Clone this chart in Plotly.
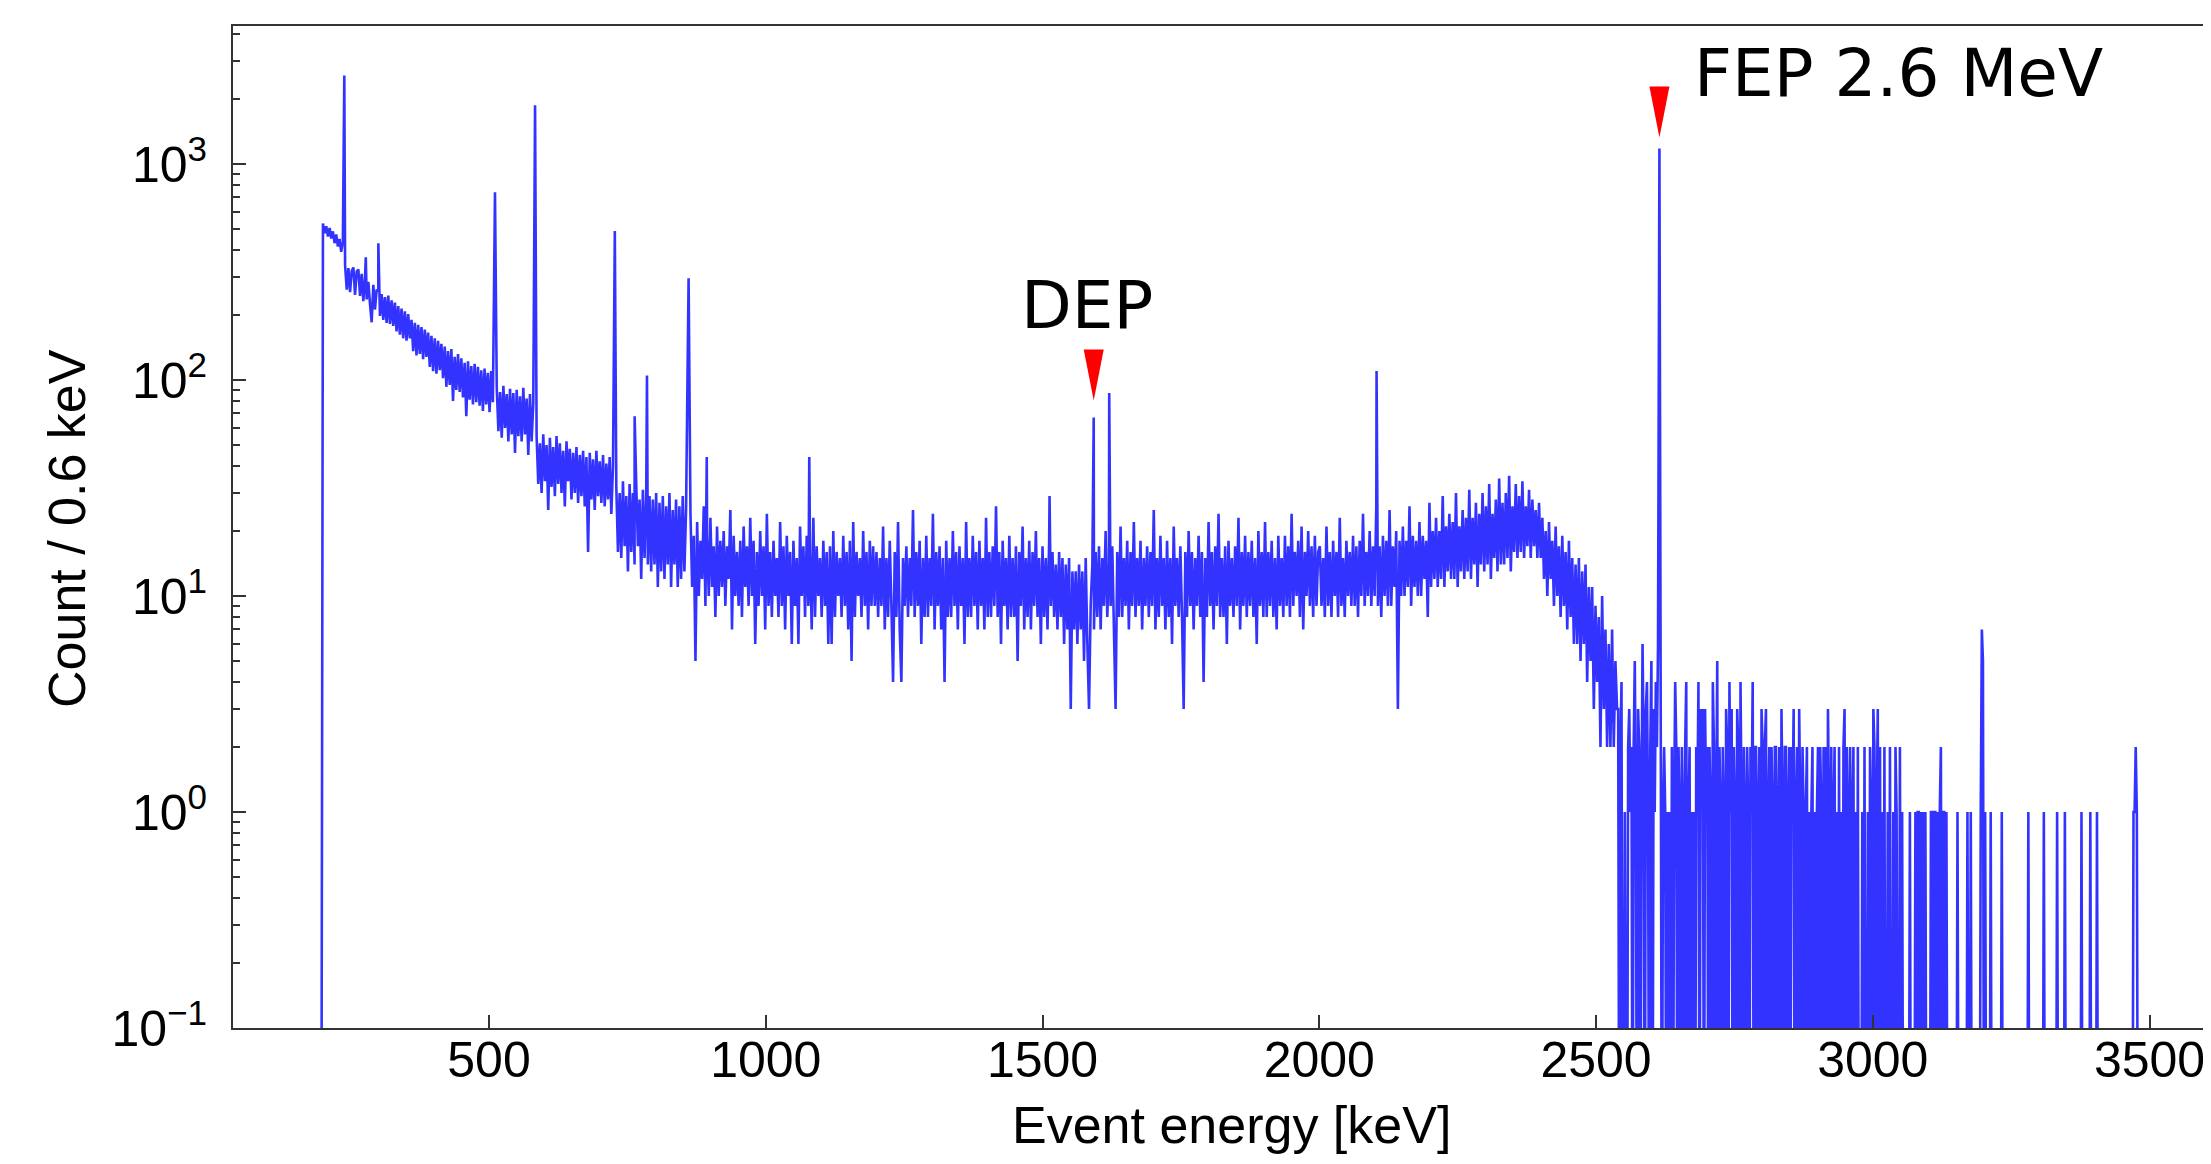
import numpy as np
import plotly.graph_objects as go

# ---------------- data (counts per 0.6 keV bin) ----------------
# main continuum readings, every 3 keV, each segment with its start energy (keV)
seg_a_start = 197
seg_a = [0, 530, 478, 515, 462, 506, 452, 488, 430, 472, 415, 450, 392, 435]

seg_b_start = 240
seg_b = [340, 262, 330, 255, 320, 332, 248, 318, 325, 245,
         310, 232, 298, 236, 285, 225, 185, 276, 212, 262,
         258, 198, 250, 190, 242, 184, 246, 182, 234, 178,
         228, 168, 220, 162, 214, 156, 208, 152, 202, 156,
         190, 136, 184, 130, 180, 132, 176, 125, 171, 128,
         166, 115, 160, 110, 156, 107, 152, 111, 147, 102,
         143, 93, 136, 95, 139, 80, 128, 90, 132, 88,
         126, 83, 120, 68, 122, 81, 116, 77, 119, 79,
         115, 76, 111, 72, 113, 77, 108, 71, 110, 79]

seg_c_start = 514
seg_c = [92, 58, 88, 54, 94, 60, 86, 52, 91, 56, 87, 46, 90, 55, 84, 52, 92, 56, 82, 45, 86, 52, 78]

seg_d_start = 586
seg_d = [55, 33, 51, 30, 56, 34, 50, 25, 54, 32, 49, 29, 55, 33, 51, 30, 47, 26, 52,
         34, 48, 28, 46, 30, 49, 27, 45, 29, 47, 26, 44, 16, 46, 28, 43, 25, 47, 29, 42,
         27, 45, 26, 41, 28, 44, 24, 40]

seg_e_start = 730
seg_e = [32, 16, 30, 15, 34, 17, 29, 13, 33, 16, 30, 14, 33, 17, 28, 12, 31, 15, 29, 14,
         29, 13, 28, 14, 30, 11, 27, 13, 29, 12, 26, 14, 30, 11, 25, 14, 28, 11, 26, 12, 29, 13, 25]

seg_f_start = 864
seg_f = [24, 11, 19, 5, 22, 10, 18, 12, 26, 9,
         19, 10, 23, 11, 17, 8, 21, 10, 18, 11,
         20, 9, 17, 12, 25, 7, 19, 10, 16, 9,
         18, 8, 21, 11, 17, 9, 23, 10, 18, 6,
         16, 9, 20, 10, 17, 7, 24, 9, 16, 8,
         18, 10, 15, 8, 22, 9, 17, 7, 19, 10,
         16, 6, 18, 9, 15, 6, 21, 10, 17, 8,
         19, 9, 16, 7, 23, 8, 17, 10, 15, 8,
         18, 9, 16, 6, 17, 6, 20, 8, 16, 10,
         15, 8, 19, 9, 16, 7, 18, 5, 22, 8,
         16, 10, 15, 8, 20, 9, 16, 7, 18, 9,
         17, 9]

seg_g_start = 1200
seg_g = [16, 8, 15, 9, 21, 7, 15, 8, 18, 9,
         4, 16, 8, 22, 7, 4, 15, 9, 17, 8,
         15, 9, 25, 8, 16, 9, 18, 6, 15, 8,
         19, 8, 15, 9, 24, 7, 16, 9, 17, 7,
         15, 4, 18, 8, 15, 8, 20, 9, 16, 7,
         17, 9, 15, 6, 22, 8, 15, 8, 19, 9,
         16, 7, 18, 9, 15, 7, 23, 8, 16, 8,
         17, 9, 26, 8, 16, 6, 18, 9, 15, 7,
         19, 8, 15, 8, 17, 5, 16, 9, 21, 7,
         15, 8, 18, 7, 16, 9, 20, 8, 15, 6,
         17, 8, 15, 7, 18, 9, 16, 8, 14, 7,
         16, 8, 15, 6, 14, 7, 15, 3, 13, 7,
         13, 6, 14, 7, 13, 5, 15, 6, 3, 9,
         14, 7, 16, 8]

seg_h_start = 1602
seg_h = [17, 7, 15, 9, 20, 8, 14, 9, 17, 7,
         3, 16, 8, 21, 8, 15, 9, 18, 7, 16,
         9, 22, 8, 15, 9, 18, 7, 15, 9, 17,
         8, 16, 9, 25, 7, 15, 8, 19, 9, 15,
         7, 18, 8, 15, 6, 21, 9, 15, 8, 17,
         8, 3, 16, 8, 20, 9, 16, 7, 15, 9,
         19, 8, 16, 4, 15, 8, 22, 9, 16, 7,
         17, 9, 24, 8, 15, 8, 17, 6, 18, 9,
         15, 8, 17, 9, 23, 7, 16, 9, 19, 8,
         16, 9, 18, 8, 15, 6, 20, 9, 16, 8,
         22, 8, 16, 9, 18, 8, 15, 7, 19, 9,
         15, 8, 19, 9, 17, 8, 24, 9, 16, 10,
         18, 8, 21, 7, 16, 10, 20, 9, 17, 8,
         19, 9, 16]

seg_i_start = 2001
seg_i = [17, 9, 15, 8, 21, 9, 16, 8, 18, 10,
         16, 8, 23, 9, 15, 8, 18, 10, 16, 9,
         19, 9, 17, 8, 18, 10, 24, 9, 16, 10,
         20, 9, 17, 10, 26, 9, 17, 8, 19, 10,
         18, 9, 25, 9, 17, 11, 20, 3, 18, 10,
         21, 10, 18, 11, 26, 9, 19, 11, 18, 10,
         22, 10, 19, 12, 18, 8, 27, 11, 20, 12,
         23, 11, 20, 12, 29, 11, 21, 13, 24, 12,
         22, 12, 30, 11, 21, 13, 25, 12, 23, 13,
         31, 12, 23, 14, 27, 11, 24, 14, 30, 13,
         26, 14, 33, 12, 24, 15, 28, 13, 35, 14,
         27, 14, 30, 15, 36, 13, 26, 16, 33, 15,
         29, 16, 34, 15, 26, 17, 31, 15, 28, 17,
         25, 15, 27, 15]

seg_j_start = 2403
seg_j = [23, 12, 20, 10, 22, 12, 18, 9, 21, 10,
         17, 8, 19, 9, 16, 7, 18, 8, 15, 6,
         14, 6, 15, 5, 13, 6, 14, 4, 11, 5,
         11, 3, 9, 4, 8, 2, 10, 3, 7, 2,
         6, 2, 7, 2, 5, 3]

# low-count region, readings every 2 keV
tail_a_start = 2540
tail_a = [3, 0, 2, 4, 0, 0, 1, 0, 0, 2, 3, 1, 2, 0, 2, 5, 1, 0, 3, 2,
          0, 1, 6, 2, 0, 3, 4, 1, 0, 2, 5, 0, 3, 1, 4, 2, 6]

tail_b_start = 2617
tail_b = [2, 0, 1, 2, 1, 0, 1, 0, 1, 0, 2, 0, 1, 4, 2, 0, 2, 1, 0, 2,
          1, 0, 2, 4, 0, 1, 2, 0, 1, 0, 1, 0, 2, 1, 4, 0, 3, 2, 3, 0,
          3, 1, 2, 0, 2, 1, 0, 4, 2, 0, 1, 5, 0, 2, 1, 0, 2, 1, 0, 3,
          2, 0, 4, 1, 3, 0, 2, 1, 0, 3, 2, 0, 4, 1, 0, 2, 1, 0, 2, 1,
          0, 2, 1, 4, 0, 2, 2, 0, 1, 2, 0, 3, 2, 0, 2, 3, 0, 1, 2, 0,
          2, 1, 0, 2, 2, 0, 1, 2, 0, 3, 1, 0, 2, 2, 0, 1, 2, 0, 2, 1,
          3, 0, 1, 2, 0, 3, 1, 0, 2, 1, 0, 1, 2, 0, 1, 0, 1, 2, 0, 1,
          0, 1, 2, 0, 2, 1, 0, 2, 0, 2, 0, 3, 1, 0, 2, 0, 1, 2, 0, 1,
          0, 2, 0, 1, 0, 2, 3, 0, 2, 1, 0, 2, 0, 1, 2, 0, 1, 0, 2, 0,
          0, 0, 1, 0, 2, 0, 0, 1, 0, 2, 1, 0, 3, 2, 0, 1, 3, 0, 2, 0,
          1, 0, 2, 0, 0, 1, 0, 2, 0, 0, 1, 0, 2, 1, 0, 0, 2, 0, 1, 0,
          0, 0, 0, 0, 0, 1, 0, 0, 0, 0, 1, 0, 1, 1, 0, 1, 0, 1, 0, 1,
          0, 0, 0, 0, 1, 1, 0, 1, 1, 0, 1, 0, 1, 2, 0, 1, 1, 0, 1, 0,
          0]

# sparse high-energy region: empty bins except these
sparse_start, sparse_stop = 3139, 3601
sparse_event_keV = [3153, 3171, 3177, 3195, 3197, 3199, 3203, 3213, 3233, 3281,
                    3309, 3333, 3347, 3377, 3393, 3405, 3471, 3473, 3475, 3477]
sparse_event_counts = [1, 1, 1, 1, 7, 5, 1, 1, 1, 1,
                       1, 1, 1, 1, 1, 1, 1, 1, 2, 1]

# gamma lines (peak maxima)
peak_keV = [238.6, 277.4, 300.1, 510.8, 583.2, 727.3, 763.1, 785.4, 860.6, 893.4,
            1078.6, 1512.7, 1592.5, 1620.5, 2103.5, 2614.5]
peak_counts = [2570, 370, 430, 740, 1870, 490, 68, 105, 296, 44,
               44, 29, 67, 87, 110, 1180]

# marked lines
dep_keV, dep_counts = 1592.5, 67
fep_keV, fep_counts = 2614.5, 1180

# ---------------- assemble ----------------
segments = [(seg_a_start, 3, seg_a), (seg_b_start, 3, seg_b), (seg_c_start, 3, seg_c),
            (seg_d_start, 3, seg_d), (seg_e_start, 3, seg_e), (seg_f_start, 3, seg_f),
            (seg_g_start, 3, seg_g), (seg_h_start, 3, seg_h), (seg_i_start, 3, seg_i),
            (seg_j_start, 3, seg_j), (tail_a_start, 2, tail_a), (tail_b_start, 2, tail_b)]
E_all, C_all = [], []
for start, step, vals in segments:
    E_all.extend(start + step * np.arange(len(vals)))
    C_all.extend(vals)
sparse_E = np.arange(sparse_start, sparse_stop, 2)
sparse_C = np.zeros(len(sparse_E))
for e, c in zip(sparse_event_keV, sparse_event_counts):
    sparse_C[(e - sparse_start) // 2] = c
E_all.extend(sparse_E)
C_all.extend(sparse_C)
E_all.extend(peak_keV)
C_all.extend(peak_counts)
E_all = np.array(E_all, dtype=float)
C_all = np.array(C_all, dtype=float)
order = np.argsort(E_all, kind="stable")
E_all, C_all = E_all[order], C_all[order]
# empty bins drawn down past the bottom of the log axis (like a clipped log plot)
C_plot = np.where(C_all > 0, C_all, 1e-2)

# ---------------- figure ----------------
# the page body adds an 8 px margin, so the figure is made 16 px smaller
W, H = 2203, 1148
ML, MR, MT, MB = 225, 0, 18, 128
PLOT_W, PLOT_H = W - ML - MR, H - MT - MB
TICK_FONT = dict(family="Liberation Sans, Arial, sans-serif", size=50, color="black")
TITLE_FONT = dict(family="Liberation Sans, Arial, sans-serif", size=52, color="black")
ANN_FONT = dict(family="DejaVu Sans, sans-serif", size=66, color="black")


def px_x(page_x):
    return (page_x - 8 - ML) / PLOT_W


def px_y(page_y):
    return (MT + PLOT_H - (page_y - 8)) / PLOT_H


fig = go.Figure()
fig.add_trace(go.Scatter(x=E_all, y=C_plot, mode="lines",
                         line=dict(color="rgba(0,0,255,0.8)", width=2.6, simplify=False),
                         hoverinfo="skip", showlegend=False))

yticks = [0.1, 1, 10, 100, 1000]
ytext = ["10<sup>\u22121</sup>", "10<sup>0</sup>", "10<sup>1</sup>", "10<sup>2</sup>", "10<sup>3</sup>"]
yminor = [k * 10.0 ** n for n in range(-1, 4) for k in range(2, 10)]

fig.update_layout(
    width=W, height=H,
    margin=dict(l=ML, r=MR, t=MT, b=MB),
    paper_bgcolor="white", plot_bgcolor="white",
    showlegend=False,
    xaxis=dict(range=[37.5, 3611], showgrid=False, zeroline=False,
               showline=True, linecolor="#333", linewidth=2, mirror=True,
               ticks="inside", ticklen=13, tickwidth=2, tickcolor="#333",
               tickvals=[500, 1000, 1500, 2000, 2500, 3000, 3500],
               ticktext=["500", "1000", "1500", "2000", "2500", "3000", "3500"],
               tickfont=TICK_FONT, ticklabelstandoff=-13),
    yaxis=dict(type="log", range=[-1, 3.639], showgrid=False, zeroline=False,
               showline=True, linecolor="#333", linewidth=2, mirror=False,
               ticks="inside", ticklen=13, tickwidth=2, tickcolor="#333",
               tickvals=yticks, ticktext=ytext, tickfont=TICK_FONT,
               ticklabelstandoff=14,
               minor=dict(tickvals=yminor, ticks="inside", ticklen=7,
                          tickwidth=1.5, tickcolor="#333", showgrid=False)),
)

# axis titles
fig.add_annotation(text="Event energy [keV]", xref="paper", yref="paper",
                   x=px_x(1231), y=px_y(1125),
                   xanchor="center", yanchor="middle", showarrow=False, font=TITLE_FONT)
fig.add_annotation(text="Count / 0.6 keV", xref="paper", yref="paper",
                   x=px_x(67), y=px_y(529), textangle=-90,
                   xanchor="center", yanchor="middle", showarrow=False, font=TITLE_FONT)

# line labels
fig.add_annotation(text="DEP", xref="x", yref="paper", x=1580, y=px_y(306),
                   xanchor="center", yanchor="middle", showarrow=False, font=ANN_FONT)
fig.add_annotation(text="FEP 2.6 MeV", xref="x", yref="paper", x=2673, y=px_y(73.5),
                   xanchor="left", yanchor="middle", showarrow=False, font=ANN_FONT)

# red markers above the two lines (pixel-sized, anchored on the peaks)
for e, c, gap in [(dep_keV, dep_counts, 17), (fep_keV, fep_counts, 11)]:
    fig.add_shape(type="path", xref="x", yref="y", xsizemode="pixel", ysizemode="pixel",
                  xanchor=e, yanchor=c,
                  path=f"M -10,{gap + 51} L 10,{gap + 51} L 0,{gap} Z",
                  fillcolor="red", line=dict(width=0), layer="above")

fig.write_html("out.html", config={"displayModeBar": False})
